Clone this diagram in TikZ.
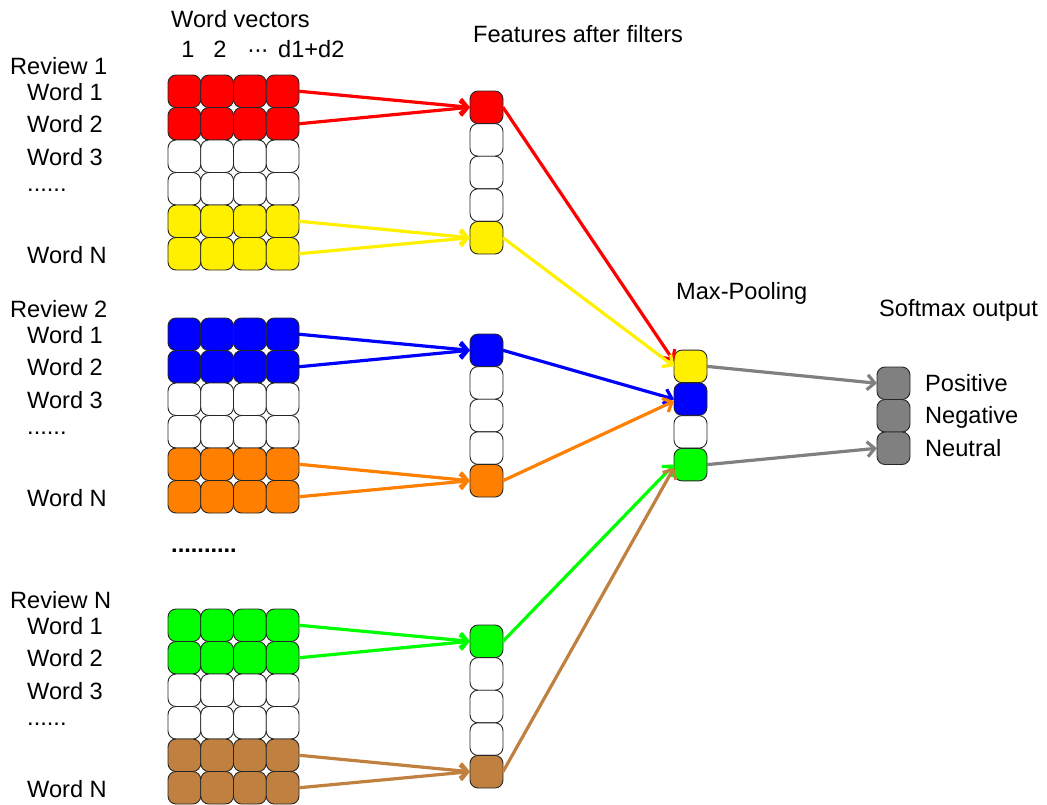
\documentclass[tikz,border=0pt]{standalone}
\usepackage{fontspec}
\setmainfont{Liberation Sans}
\usetikzlibrary{arrows.meta}
\definecolor{cred}{HTML}{FF0000}
\definecolor{cyel}{HTML}{FFF000}
\definecolor{cblue}{HTML}{0000FF}
\definecolor{corange}{HTML}{FF8000}
\definecolor{cgreen}{HTML}{00FF00}
\definecolor{cbrown}{HTML}{C0803F}
\definecolor{cgray}{HTML}{808080}
\begin{document}
\begin{tikzpicture}[x=1pt,y=-1pt,
  cell/.style={draw=black!85, line width=0.9pt, rounded corners=8pt, minimum width=32.75pt, minimum height=32.5pt, inner sep=0pt, outer sep=0pt},
  conn/.style={line width=3.2pt, -{Straight Barb[length=7.5pt,width=15pt]}},
  lbl/.style={anchor=base west, inner sep=0pt, font=\fontsize{23.6}{28}\selectfont},
  clbl/.style={anchor=base, inner sep=0pt, font=\fontsize{23.6}{28}\selectfont}]
\useasboundingbox (0,0) rectangle (1047,804);

\foreach \k/\off/\ca/\cb/\rn in {1/0/cred/cyel/1, 2/243/cblue/corange/2, 3/534/cgreen/cbrown/N} {
  % word-vector grid
  \foreach \r in {1,...,6} {
    \ifnum\r<3 \def\fc{\ca}\else\ifnum\r>4 \def\fc{\cb}\else\def\fc{white}\fi\fi
    \foreach \c in {1,...,4}
      \node[cell, fill=\fc] (g\k-\r-\c) at ({168+32.75*(\c-0.5)}, {75+\off+32.5*(\r-0.5)}) {};
  }
  % feature column
  \foreach \i in {1,...,5} {
    \ifnum\i=1 \def\fc{\ca}\else\ifnum\i=5 \def\fc{\cb}\else\def\fc{white}\fi\fi
    \node[cell, minimum width=33pt, minimum height=32.6pt, fill=\fc] (f\k-\i) at (486.5, {91+\off+32.6*(\i-0.5)}) {};
  }
  \draw[conn, \ca] (g\k-1-4.east) -- (f\k-1.west);
  \draw[conn, \ca] (g\k-2-4.east) -- (f\k-1.west);
  \draw[conn, \cb] (g\k-5-4.east) -- (f\k-5.west);
  \draw[conn, \cb] (g\k-6-4.east) -- (f\k-5.west);
  % labels
  \node[lbl] (rv\k) at (10, {74+\off}) {Review \rn};
  \node[lbl] (w\k-1) at (27, {100+\off}) {Word 1};
  \node[lbl] (w\k-2) at (27, {132.5+\off}) {Word 2};
  \node[lbl] (w\k-3) at (27, {165+\off}) {Word 3};
  \node[lbl] (w\k-4) at (27, {191+\off}) {......};
  \node[lbl] (w\k-6) at (27, {263+\off}) {Word N};
}

% headings
\node[lbl] (hwv) at (171, 27) {Word vectors};
\node[clbl] (hc1) at (188, 57) {1};
\node[clbl] (hc2) at (220, 57) {2};
\node[clbl] (hc3) at (258, 57) {\textperiodcentered\kern-1pt\textperiodcentered\kern-1pt\textperiodcentered};
\node[lbl] (hc4) at (278, 57) {d1+d2};
\node[lbl] (hff) at (473, 42) {Features after filters};
\node[lbl] (hmp) at (676, 299) {Max-Pooling};
\node[lbl] (hso) at (879, 316) {Softmax output};
\node[lbl] (dots) at (171, 552) {\bfseries ..........};

% max pooling
\foreach \i/\fc in {1/cyel, 2/cblue, 3/white, 4/cgreen}
  \node[cell, minimum width=33pt, fill=\fc] (m\i) at (690.5, {350+32.75*(\i-0.5)}) {};
% softmax
\foreach \i in {1,2,3}
  \node[cell, minimum width=33pt, fill=cgray] (s\i) at (893.5, {367+32.5*(\i-0.5)}) {};
\node[lbl] (lp) at (925, 391) {Positive};
\node[lbl] (ln) at (925, 423) {Negative};
\node[lbl] (lu) at (925, 456) {Neutral};

% to max pooling
\draw[conn, cred] (f1-1.east) -- ([yshift=5pt]m1.west);
\draw[conn, cyel] (f1-5.east) -- (m1.west);
\draw[conn, cblue] (f2-1.east) -- (m2.west);
\draw[conn, corange] (f2-5.east) -- ([yshift=-2pt]m2.west);
\draw[conn, cgreen] (f3-1.east) -- ([yshift=0pt]m4.west);
\draw[conn, cbrown] (f3-5.east) -- ([yshift=-3pt]m4.west);
% to softmax
\draw[conn, cgray] (m1.east) -- (s1.west);
\draw[conn, cgray] (m4.east) -- (s3.west);
\end{tikzpicture}
\end{document}
